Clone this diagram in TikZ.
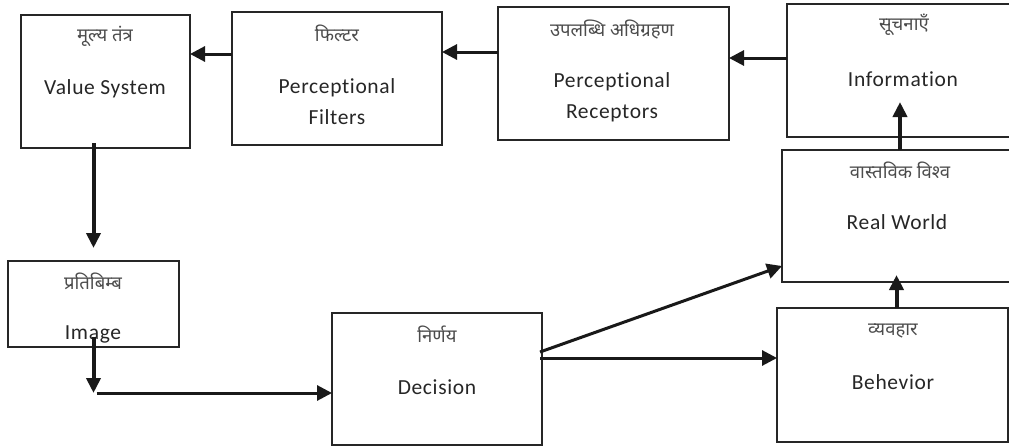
\documentclass[tikz,border=0pt]{standalone}
\usepackage{fontspec}
\setmainfont{Carlito}[Ligatures=NoCommon,LetterSpace=3]
\newfontfamily\dev[Script=Devanagari]{Noto Sans}
\usetikzlibrary{arrows.meta,calc}
\tikzset{
  box/.style={draw=black!85, line width=1.3pt, inner sep=0pt, outer sep=0pt, anchor=north west},
  en/.style={text=black!85, inner sep=0pt, font=\fontsize{21.5}{31}\selectfont, align=center},
  hi/.style={text=black!70, inner sep=0pt, font=\dev\fontsize{18.5}{20}\selectfont},
  arr/.style={draw=black!90, line width=3pt, -{Triangle[length=15pt,width=15pt]}},
  varr/.style={draw=black!90, line width=4pt, -{Triangle[length=15pt,width=14pt]}}
}
\begin{document}
\begin{tikzpicture}[x=1pt,y=-1pt]
\useasboundingbox (0,0) rectangle (1009,447);
\clip (0,0) rectangle (1009,447);
% boxes
\node[box, minimum width=169pt, minimum height=133pt] (val) at (21,15) {};
\node[box, minimum width=210pt, minimum height=133pt] (fil) at (232,12) {};
\node[box, minimum width=231pt, minimum height=133pt] (rec) at (498,7) {};
\node[box, minimum width=233pt, minimum height=133pt] (inf) at (787,4) {};
\node[box, minimum width=231pt, minimum height=132pt] (rw) at (782,150) {};
\node[box, minimum width=231pt, minimum height=134pt] (beh) at (777,308) {};
\node[box, minimum width=171pt, minimum height=86pt] (img) at (8,261) {};
\node[box, minimum width=210pt, minimum height=132pt] (dec) at (332,313) {};
% texts
\node[hi] (valh) at (105,36) {मूल्य तंत्र};
\node[en] (vale) at (105,89) {Value System};
\node[hi] (filh) at (337,33) {फिल्टर};
\node[en] (file) at (337,101.5) {Perceptional\\Filters};
\node[hi] (rech) at (612,30) {उपलब्धि अधिग्रहण};
\node[en] (rece) at (612,97) {Perceptional\\Receptors};
\node[hi] (infh) at (904,25) {सूचनाएँ};
\node[en] (infe) at (903,79) {Information};
\node[hi] (rwh) at (900,170) {वास्तविक विश्व};
\node[en] (rwe) at (897,222) {Real World};
\node[hi] (behh) at (893,331) {व्यवहार};
\node[en] (behe) at (893,382) {Behevior};
\node[hi] (imgh) at (93,281) {प्रतिबिम्ब};
\node[en] (imge) at (93,334) {Image};
\node[hi] (dech) at (437,334) {निर्णय};
\node[en] (dece) at (437,387) {Decision};
% connectors
\draw[arr] ([yshift=-42pt]fil.north west) coordinate (p1) -- (p1 -| val.east);
\draw[arr] ([yshift=-45pt]rec.north west) coordinate (p2) -- (p2 -| fil.east);
\draw[arr] ([yshift=-54pt]inf.north west) coordinate (p3) -- (p3 -| rec.east);
\draw[varr] ([yshift=5pt]img.north |- val.south) -- ([yshift=13pt]img.north);
\draw[varr] ([yshift=10pt]img.south) -- ([yshift=-46pt]img.south) coordinate (c1);
\draw[arr] ([xshift=3pt]c1) -- (c1 -| dec.west);
\draw[arr] ([xshift=-2pt,yshift=27pt]dec.east) -- ([yshift=-50pt]rw.west);
\draw[arr] ([xshift=-2pt,yshift=21pt]dec.east) coordinate (p4) -- (p4 -| beh.west);
\draw[varr] ([xshift=4pt]beh.north) -- ([xshift=4pt,yshift=7pt]beh.north |- rw.south);
\draw[varr] ([xshift=118pt]rw.north west) -- ([xshift=118pt,yshift=35pt]rw.north west |- inf.south);
\end{tikzpicture}
\end{document}
